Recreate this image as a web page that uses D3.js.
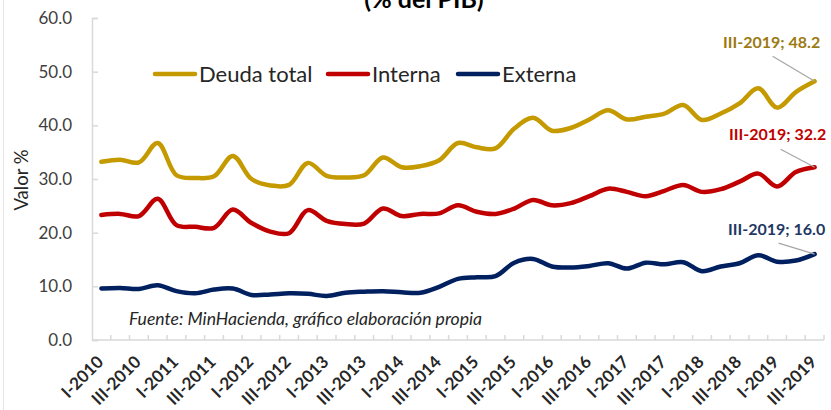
<!DOCTYPE html>
<html>
<head>
<meta charset="utf-8">
<script src="https://cdn.jsdelivr.net/npm/d3@7"></script>
<style>
  body { margin: 0; background: #fff; }
  svg { display: block; font-family: Lato, "Open Sans", sans-serif; }
</style>
</head>
<body>
<div id="chart"><svg></svg></div>
<script>
// quarters I-2010 .. III-2019
const quarters = [
  "I-2010", "II-2010", "III-2010", "IV-2010",
  "I-2011", "II-2011", "III-2011", "IV-2011",
  "I-2012", "II-2012", "III-2012", "IV-2012",
  "I-2013", "II-2013", "III-2013", "IV-2013",
  "I-2014", "II-2014", "III-2014", "IV-2014",
  "I-2015", "II-2015", "III-2015", "IV-2015",
  "I-2016", "II-2016", "III-2016", "IV-2016",
  "I-2017", "II-2017", "III-2017", "IV-2017",
  "I-2018", "II-2018", "III-2018", "IV-2018",
  "I-2019", "II-2019", "III-2019"
];

const deudaTotal = [
  33.2, 33.6, 33.1, 36.7, 30.7, 30.2, 30.5, 34.3, 30.0, 28.8,
  28.9, 33.0, 30.6, 30.3, 30.7, 34.0, 32.2, 32.4, 33.5, 36.7,
  35.9, 35.7, 39.4, 41.4, 39.0, 39.5, 41.1, 42.8, 41.1, 41.6,
  42.2, 43.8, 41.0, 42.2, 44.1, 46.9, 43.3, 46.2, 48.2
];
const interna = [
  23.3, 23.5, 23.1, 26.3, 21.4, 21.1, 20.9, 24.3, 21.8, 20.2,
  19.9, 24.2, 22.2, 21.6, 21.7, 24.5, 23.1, 23.5, 23.6, 25.1,
  23.9, 23.5, 24.5, 26.1, 25.1, 25.5, 26.8, 28.2, 27.6, 26.8,
  27.8, 28.9, 27.6, 28.1, 29.5, 31.0, 28.6, 31.3, 32.2
];
const externa = [
  9.6, 9.7, 9.5, 10.2, 9.1, 8.7, 9.4, 9.6, 8.4, 8.5,
  8.7, 8.6, 8.2, 8.8, 9.0, 9.1, 8.9, 8.8, 9.9, 11.4,
  11.7, 11.9, 14.4, 15.1, 13.7, 13.5, 13.8, 14.3, 13.3, 14.4,
  14.1, 14.5, 12.8, 13.7, 14.3, 15.8, 14.6, 14.8, 16.0
];
const yTicks = [0, 10, 20, 30, 40, 50, 60];

const series = [
  { name: "Deuda total", values: deudaTotal, color: "#C49A00", labelColor: "#9C7A12" },
  { name: "Interna", values: interna, color: "#C00000", labelColor: "#C00000" },
  { name: "Externa", values: externa, color: "#002060", labelColor: "#1F3864" }
];

const W = 831, H = 410;
const svg = d3.select("#chart > svg").attr("width", W).attr("height", H);

const x = d3.scaleBand().domain(quarters).range([92, 824]).padding(0);
const y = d3.scaleLinear().domain([0, 60]).range([340, 18]);
const cx = q => x(q) + x.bandwidth() / 2;

// faint frame edge on the left
svg.append("line")
  .attr("x1", 3.5).attr("x2", 3.5).attr("y1", 0).attr("y2", H)
  .attr("stroke", "#e6e6e6");

// title (cut at the top like the original)
svg.append("text")
  .attr("x", 424).attr("y", 8)
  .attr("text-anchor", "middle")
  .attr("font-weight", "bold").attr("font-size", 25).attr("fill", "#000")
  .text("(% del PIB)");

// y axis
const yAxis = svg.append("g")
  .attr("transform", "translate(92,0)")
  .call(d3.axisLeft(y).tickValues(yTicks).tickFormat(d3.format(".1f")).tickSize(-6).tickPadding(20));
yAxis.select(".domain").attr("stroke", "#d9d9d9").attr("stroke-width", 1.5);
yAxis.selectAll(".tick line").attr("stroke", "#d9d9d9").attr("stroke-width", 1.5);
yAxis.selectAll(".tick text").attr("font-size", 17).attr("fill", "#404040").attr("font-family", "Lato");

// x axis
const xAxis = svg.append("g").attr("transform", "translate(0,340)");
xAxis.append("line")
  .attr("x1", 92).attr("x2", 824).attr("y1", 0).attr("y2", 0)
  .attr("stroke", "#d9d9d9").attr("stroke-width", 1.5);
xAxis.selectAll("line.tk")
  .data(quarters)
  .join("line")
  .attr("class", "tk")
  .attr("x1", d => x(d) + x.bandwidth()).attr("x2", d => x(d) + x.bandwidth())
  .attr("y1", 0).attr("y2", -5)
  .attr("stroke", "#d9d9d9").attr("stroke-width", 1.5);
xAxis.selectAll("text")
  .data(quarters.filter((d, i) => i % 2 === 0))
  .join("text")
  .attr("transform", d => `translate(${cx(d) + 3},23) rotate(-45)`)
  .attr("text-anchor", "end")
  .attr("font-weight", "bold").attr("font-size", 17).attr("fill", "#262626")
  .text(d => d);

// y label
svg.append("text")
  .attr("transform", "translate(28,180) rotate(-90)")
  .attr("text-anchor", "middle")
  .attr("font-size", 18.5).attr("fill", "#262626")
  .text("Valor %");

// lines
const line = d3.line()
  .x((d, i) => cx(quarters[i]))
  .y(d => y(d))
  .curve(d3.curveCatmullRom.alpha(0.5));

series.forEach(s => {
  svg.append("path")
    .datum(s.values)
    .attr("fill", "none")
    .attr("stroke", s.color)
    .attr("stroke-width", 4.5)
    .attr("stroke-linejoin", "round")
    .attr("stroke-linecap", "round")
    .attr("d", line);
});

// end labels with leader lines
const labelOffsets = [
  { dx: -43, dy: -33, lx: -42, ly: -25 },
  { dx: -37, dy: -27, lx: -34, ly: -18 },
  { dx: -38, dy: -19, lx: -36, ly: -11 }
];
const last = quarters.length - 1;
series.forEach((s, k) => {
  const px = cx(quarters[last]), py = y(s.values[last]);
  const o = labelOffsets[k];
  svg.append("line")
    .attr("x1", px + o.lx).attr("y1", py + o.ly)
    .attr("x2", px).attr("y2", py)
    .attr("stroke", "#a6a6a6").attr("stroke-width", 1.2);
  svg.append("text")
    .attr("x", px + o.dx).attr("y", py + o.dy)
    .attr("text-anchor", "middle")
    .attr("font-weight", "bold").attr("font-size", 16).attr("fill", s.labelColor)
    .text(`${quarters[last]}; ${s.values[last].toFixed(1)}`);
});

// legend
const legendX = [155, 328, 458];
series.forEach((s, k) => {
  const g = svg.append("g").attr("transform", `translate(${legendX[k]},74)`);
  g.append("line")
    .attr("x1", 0).attr("x2", 40).attr("y1", 0).attr("y2", 0)
    .attr("stroke", s.color).attr("stroke-width", 4.5).attr("stroke-linecap", "round");
  g.append("text")
    .attr("x", 44).attr("y", 8)
    .attr("font-size", 22).attr("fill", "#262626")
    .text(s.name);
});

// source note
svg.append("text")
  .attr("x", 129).attr("y", 325)
  .attr("font-style", "italic").attr("font-size", 17.6).attr("fill", "#262626")
  .text("Fuente: MinHacienda, gráfico elaboración propia");
</script>
</body>
</html>
